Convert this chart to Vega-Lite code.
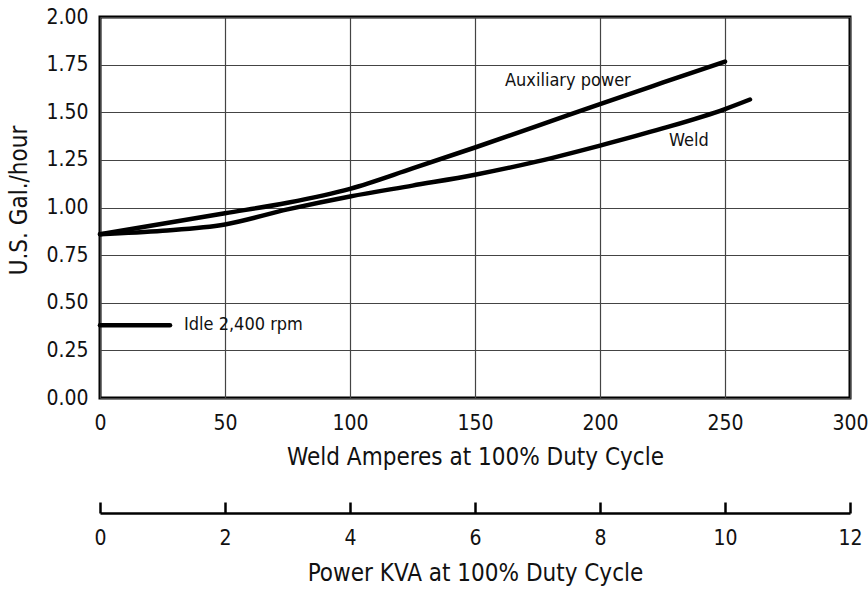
{
  "$schema": "https://vega.github.io/schema/vega-lite/v6.json",
  "width": 750,
  "height": 381,
  "autosize": {"type": "none"},
  "padding": {"left": 100, "top": 17, "right": 18, "bottom": 192},
  "background": "white",
  "config": {
    "font": "DejaVu Sans Condensed, Liberation Sans, sans-serif",
    "view": {"stroke": "black", "strokeWidth": 3},
    "axis": {"labelFont": "DejaVu Sans Condensed, Liberation Sans, sans-serif", "titleFont": "DejaVu Sans Condensed, Liberation Sans, sans-serif", "labelColor": "#111", "titleColor": "#111", "titleFontWeight": "normal"}
  },
  "datasets": {
    "curves": [
      {"series": "Auxiliary power", "amps": 0, "gal": 0.86},
      {"series": "Auxiliary power", "amps": 25, "gal": 0.915},
      {"series": "Auxiliary power", "amps": 50, "gal": 0.97},
      {"series": "Auxiliary power", "amps": 75, "gal": 1.025},
      {"series": "Auxiliary power", "amps": 100, "gal": 1.098},
      {"series": "Auxiliary power", "amps": 125, "gal": 1.205},
      {"series": "Auxiliary power", "amps": 150, "gal": 1.315},
      {"series": "Auxiliary power", "amps": 175, "gal": 1.428},
      {"series": "Auxiliary power", "amps": 200, "gal": 1.543},
      {"series": "Auxiliary power", "amps": 225, "gal": 1.655},
      {"series": "Auxiliary power", "amps": 250, "gal": 1.766},
      {"series": "Weld", "amps": 0, "gal": 0.86},
      {"series": "Weld", "amps": 25, "gal": 0.878},
      {"series": "Weld", "amps": 50, "gal": 0.911},
      {"series": "Weld", "amps": 75, "gal": 0.99},
      {"series": "Weld", "amps": 100, "gal": 1.058},
      {"series": "Weld", "amps": 125, "gal": 1.115},
      {"series": "Weld", "amps": 150, "gal": 1.172},
      {"series": "Weld", "amps": 175, "gal": 1.242},
      {"series": "Weld", "amps": 200, "gal": 1.325},
      {"series": "Weld", "amps": 225, "gal": 1.415},
      {"series": "Weld", "amps": 250, "gal": 1.517},
      {"series": "Weld", "amps": 260, "gal": 1.567},
      {"series": "Idle", "amps": 0, "gal": 0.382},
      {"series": "Idle", "amps": 28, "gal": 0.382}
    ],
    "labels": [
      {"amps": 162, "gal": 1.665, "label": "Auxiliary power"},
      {"amps": 227.6, "gal": 1.35, "label": "Weld"},
      {"amps": 33.6, "gal": 0.382, "label": "Idle 2,400 rpm"}
    ],
    "kva": [
      {"kva": 0},
      {"kva": 12}
    ]
  },
  "layer": [
    {
      "layer": [
        {
          "data": {"name": "curves"},
          "mark": {"type": "line", "color": "black", "strokeWidth": 4.5, "interpolate": "monotone", "strokeCap": "round"},
          "encoding": {
            "x": {
              "field": "amps", "type": "quantitative",
              "scale": {"domain": [0, 300], "nice": false},
              "axis": {
                "values": [0, 50, 100, 150, 200, 250, 300],
                "title": "Weld Amperes at 100% Duty Cycle",
                "titleFontSize": 24, "labelFontSize": 21,
                "grid": true, "gridColor": "#444", "gridWidth": 1.2,
                "ticks": false, "domain": false,
                "labelPadding": 14, "titlePadding": 12,
                "labelFlush": false, "labelOverlap": false
              }
            },
            "y": {
              "field": "gal", "type": "quantitative",
              "scale": {"domain": [0, 2], "nice": false},
              "axis": {
                "values": [0, 0.25, 0.5, 0.75, 1, 1.25, 1.5, 1.75, 2],
                "format": ".2f",
                "title": "U.S. Gal./hour",
                "titleFontSize": 24, "labelFontSize": 21,
                "grid": true, "gridColor": "#444", "gridWidth": 1.2,
                "ticks": false, "domain": false,
                "labelPadding": 12, "titlePadding": 14,
                "titleY": 183,
                "labelFlush": false, "labelOverlap": false
              }
            },
            "detail": {"field": "series", "type": "nominal"}
          }
        },
        {
          "data": {"name": "labels"},
          "mark": {"type": "text", "align": "left", "baseline": "middle", "fontSize": 18, "color": "#111", "font": "DejaVu Sans Condensed, Liberation Sans, sans-serif"},
          "encoding": {
            "x": {"field": "amps", "type": "quantitative"},
            "y": {"field": "gal", "type": "quantitative"},
            "text": {"field": "label", "type": "nominal"}
          }
        }
      ]
    },
    {
      "data": {"name": "kva"},
      "mark": {"type": "point", "opacity": 0},
      "encoding": {
        "x": {
          "field": "kva", "type": "quantitative",
          "scale": {"domain": [0, 12], "nice": false},
          "axis": {
            "orient": "bottom", "offset": 115,
            "values": [0, 2, 4, 6, 8, 10, 12],
            "title": "Power KVA at 100% Duty Cycle",
            "titleFontSize": 24, "labelFontSize": 21,
            "grid": false,
            "domain": true, "domainColor": "black", "domainWidth": 2.5,
            "ticks": true, "tickColor": "black", "tickWidth": 2.5, "tickSize": -11,
            "labelPadding": 25, "titlePadding": 13,
            "labelFlush": false, "labelOverlap": false
          }
        }
      }
    }
  ],
  "resolve": {"scale": {"x": "independent"}, "axis": {"x": "independent"}}
}
